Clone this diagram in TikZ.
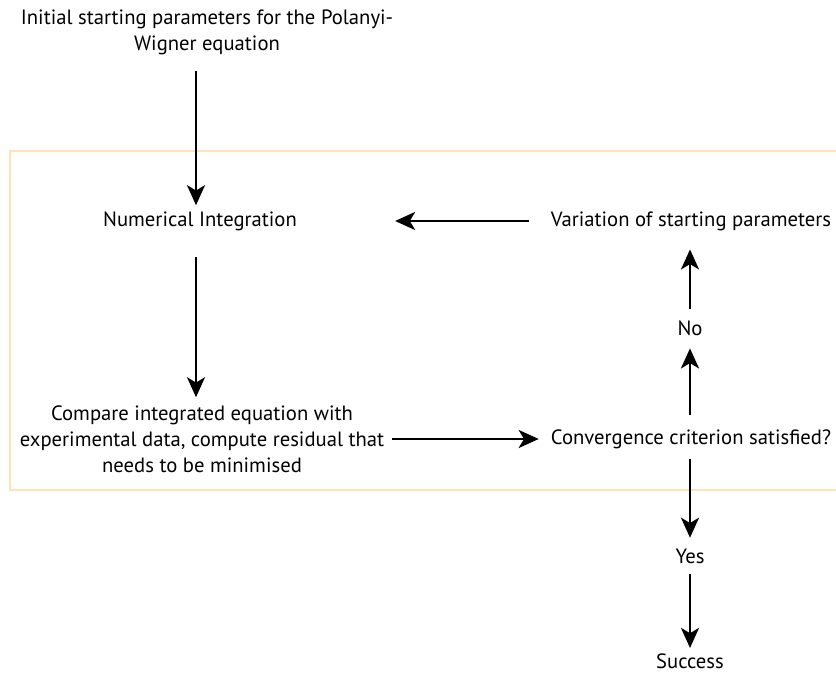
\documentclass[tikz,border=0pt]{standalone}
\usepackage{fontspec}
\setmainfont{PT Sans}
\usetikzlibrary{arrows.meta}
\definecolor{loopedge}{HTML}{FDE3B6}

\begin{document}
\begin{tikzpicture}[
            x=0.75pt, y=-0.75pt,
            font=\fontsize{15.5}{19.5}\selectfont,
            >={Stealth[length=15pt, width=13.5pt, inset=4pt]},
            stage/.style={align=center, inner sep=0pt},
            loopbox/.style={draw=loopedge, line width=2.2pt},
            arr/.style={->, line width=2pt, black}
        ]
            \useasboundingbox (0,0) rectangle (836,673);

            % iteration loop
            \draw[loopbox] (840,151) -- (10,151) -- (10,490) -- (840,490);

            \node[stage] (init) at (207,32)
                {Initial starting parameters for the Polanyi-\\
                 Wigner equation};
            \node[stage] (numint) at (200,221) {Numerical Integration};
            \node[stage] (compare) at (202,439)
                {Compare integrated equation with\\
                 experimental data, compute residual that\\
                 needs to be minimised};
            \node[stage] (conv) at (691,439) {Convergence criterion satisfied?};
            \node[stage] (vary) at (691,221) {Variation of starting parameters};
            \node[stage] (no) at (690,328) {No};
            \node[stage] (yes) at (690,556) {Yes};
            \node[stage] (success) at (690,661) {Success};
            \coordinate (leftcol) at (196,0);

            \draw[arr, shorten <=12.5pt, shorten >=4.5pt] (leftcol |- init.south) -- (leftcol |- numint.north);
            \draw[arr, shorten <=20pt, shorten >=6pt] (leftcol |- numint.south) -- (leftcol |- compare.north);
            \draw[arr, shorten <=6pt, shorten >=9pt] (compare) -- (conv);
            \draw[arr, shorten <=10.5pt, shorten >=9.5pt] (no |- conv.north) -- (no);
            \draw[arr, shorten <=8.8pt, shorten >=14pt] (no) -- (no |- vary.south);
            \draw[arr, shorten <=16.5pt, shorten >=73.5pt] (vary) -- (numint);
            \draw[arr, shorten <=8pt, shorten >=8pt] (yes |- conv.south) -- (yes);
            \draw[arr, shorten <=8pt, shorten >=4pt] (yes) -- (success);
        \end{tikzpicture}
\end{document}
